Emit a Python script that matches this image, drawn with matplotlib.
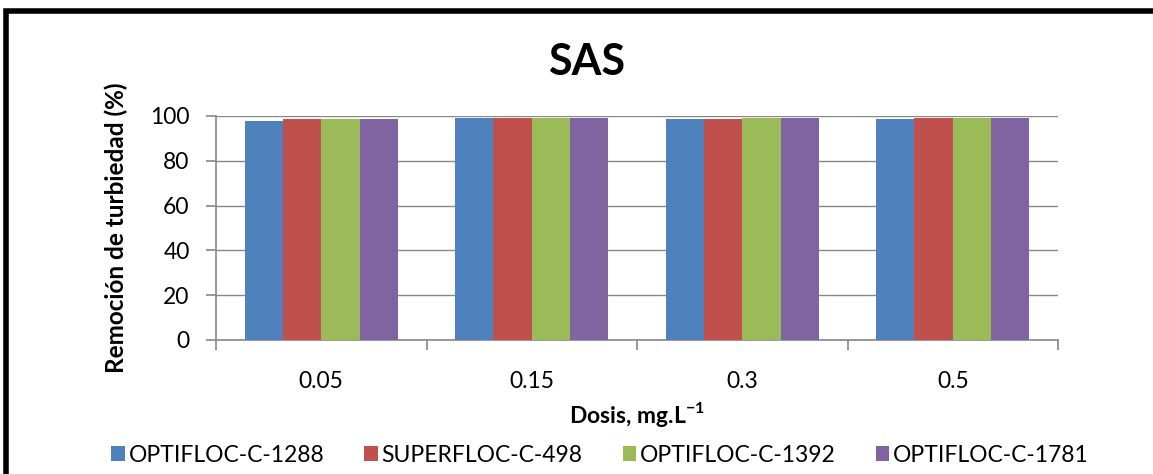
import matplotlib
matplotlib.use("Agg")
import matplotlib.pyplot as plt
import numpy as np
from matplotlib.patches import Rectangle

categories = ["0.05", "0.15", "0.3", "0.5"]
series_names = ["OPTIFLOC-C-1288", "SUPERFLOC-C-498", "OPTIFLOC-C-1392", "OPTIFLOC-C-1781"]
optifloc_1288 = [97.9, 99.0, 98.5, 98.5]
superfloc_498 = [98.8, 99.0, 98.7, 99.0]
optifloc_1392 = [98.8, 99.1, 99.2, 98.9]
optifloc_1781 = [98.8, 99.2, 99.0, 99.2]
colors = ["#4F81BD", "#C0504D", "#9BBB59", "#8064A2"]
yticks = [0, 20, 40, 60, 80, 100]

plt.rcParams['font.family'] = ['Lato', 'DejaVu Sans']
plt.rcParams['mathtext.fontset'] = 'custom'
plt.rcParams['mathtext.rm'] = 'Lato'
plt.rcParams['mathtext.bf'] = 'Lato:bold'

fig = plt.figure(figsize=(11.53, 4.74), dpi=100)
W, H = 1153, 474
ax = fig.add_axes([216/W, 1-340/H, (1058-216)/W, (340-116)/H])

series = [optifloc_1288, superfloc_498, optifloc_1392, optifloc_1781]
x = np.arange(len(categories))
bw = 0.182
for i, (vals, name, c) in enumerate(zip(series, series_names, colors)):
    ax.bar(x + (i - 1.5) * bw, vals, width=bw, color=c, label=name, zorder=3,
           edgecolor='none')

ax.set_xlim(-0.5, len(categories) - 0.5)
ax.set_ylim(0, 100)
ax.set_yticks(yticks)
ax.set_yticklabels([str(v) for v in yticks], fontsize=16.5)
ax.set_xticks(x)
ax.set_xticklabels(categories, fontsize=16.5)
ax.tick_params(axis='x', length=0, pad=22)
ax.set_xticks(np.arange(-0.5, len(categories)), minor=True)
ax.tick_params(axis='x', which='minor', length=7, color='#888888', width=1.2)
ax.tick_params(axis='y', length=7, color='#888888', width=1.2, pad=12)
ax.grid(axis='y', color='#888888', linewidth=1.0, zorder=0)
for s in ['top', 'right']:
    ax.spines[s].set_visible(False)
for s in ['left', 'bottom']:
    ax.spines[s].set_color('#888888')
    ax.spines[s].set_linewidth(1.2)

ax.set_ylabel("Remoción de turbiedad (%)", fontsize=17.5, fontweight='bold', labelpad=16)
ax.set_xlabel("Dosis, mg.L$^{\\mathbf{-1}}$", fontsize=16.5, fontweight='bold', labelpad=6)
fig.text(587 / W, 1 - 62/H, "SAS", fontsize=31, fontweight='bold',
         ha='center', va='center')

leg = fig.legend(loc='center', bbox_to_anchor=(600/W, 1 - 455/H), ncol=4,
                 frameon=False, fontsize=16.5, handlelength=0.6, handleheight=0.6,
                 handletextpad=0.15, columnspacing=1.75)

fig.patches.append(Rectangle((6/W, -0.05), 1.2, 1 - 10.5/H + 0.05, transform=fig.transFigure,
                             fill=False, edgecolor='black', linewidth=4, zorder=10))

fig.savefig("out.png", dpi=100)
